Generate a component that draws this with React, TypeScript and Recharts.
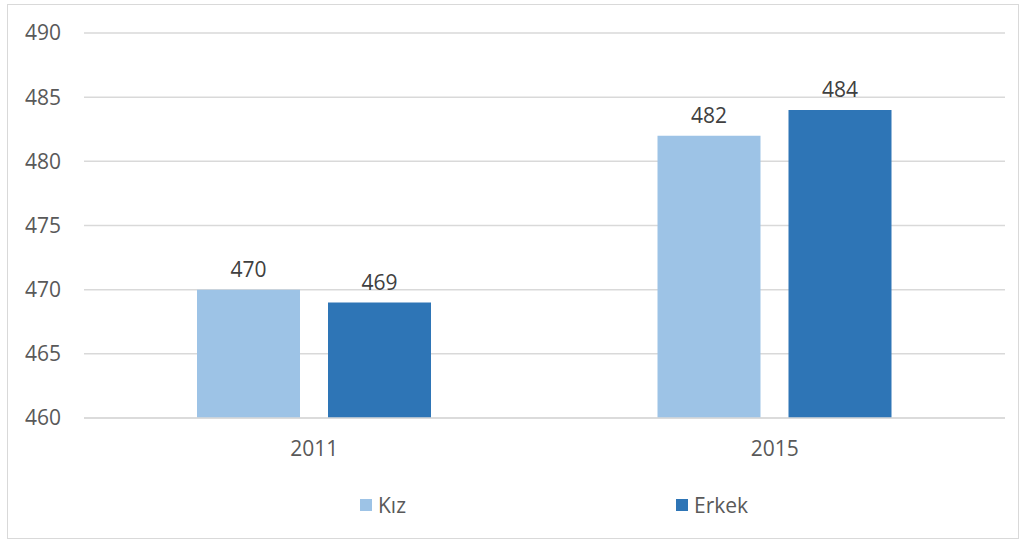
import React from "react";
import { BarChart, Bar, XAxis, YAxis, CartesianGrid, LabelList } from "recharts";

const years = ["2011", "2015"];
const kiz = [470, 482];
const erkek = [469, 484];
const yTicks = [460, 465, 470, 475, 480, 485, 490];
const seriesNames = ["Kız", "Erkek"];
const colors = ["#9DC3E6", "#2E75B6"];

const data = years.map((y, i) => ({ year: y, kiz: kiz[i], erkek: erkek[i] }));

const FONT = "'Open Sans', 'Noto Sans', sans-serif";

export default function App() {
  return (
    <div style={{ position: "absolute", left: 0, top: 0, width: 1024, height: 542, background: "#fff", fontFamily: FONT }}>
      <div style={{ position: "absolute", left: 7, top: 4, width: 1010, height: 533, border: "1px solid #d9d9d9" }} />
      <BarChart
        width={1024}
        height={542}
        data={data}
        margin={{ top: 33, right: 19, left: 24, bottom: 94 }}
        barGap={28}
        barSize={103}
      >
        <CartesianGrid vertical={false} stroke="#d9d9d9" strokeWidth={1.5} />
        <XAxis
          dataKey="year"
          axisLine={{ stroke: "#d9d9d9", strokeWidth: 1.5 }}
          tickLine={false}
          tickMargin={17}
          tick={{ fill: "#595959", fontSize: 21, fontFamily: FONT }}
        />
        <YAxis
          domain={[460, 490]}
          ticks={yTicks}
          width={60}
          axisLine={false}
          tickLine={false}
          tickMargin={17}
          tick={{ fill: "#595959", fontSize: 21, fontFamily: FONT }}
        />
        <Bar dataKey="kiz" name={seriesNames[0]} fill={colors[0]} isAnimationActive={false}>
          <LabelList dataKey="kiz" position="top" offset={13} fill="#404040" fontSize={21} fontFamily={FONT} />
        </Bar>
        <Bar dataKey="erkek" name={seriesNames[1]} fill={colors[1]} isAnimationActive={false}>
          <LabelList dataKey="erkek" position="top" offset={13} fill="#404040" fontSize={21} fontFamily={FONT} />
        </Bar>
      </BarChart>
      {seriesNames.map((n, i) => (
        <div
          key={n}
          style={{
            position: "absolute",
            left: i === 0 ? 360 : 676,
            top: 492,
            display: "flex",
            alignItems: "center",
            height: 26,
            color: "#595959",
            fontSize: 21,
          }}
        >
          <span style={{ display: "inline-block", width: 12, height: 12, background: colors[i], marginRight: 6 }} />
          <span>{n}</span>
        </div>
      ))}
    </div>
  );
}
